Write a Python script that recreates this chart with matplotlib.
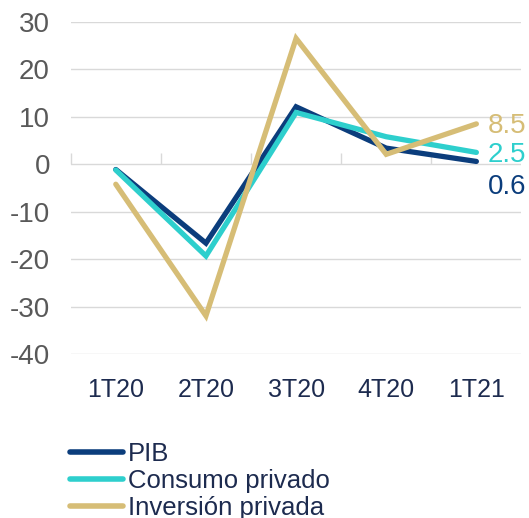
import matplotlib
matplotlib.use("Agg")
import matplotlib.pyplot as plt
import numpy as np

categories = ["1T20", "2T20", "3T20", "4T20", "1T21"]
pib = [-1.1, -16.6, 12.1, 3.4, 0.6]
consumo = [-1.2, -19.3, 10.9, 5.8, 2.5]
inversion = [-4.2, -31.9, 26.5, 2.1, 8.5]
series_names = ["PIB", "Consumo privado", "Inversión privada"]
yticks = [-40, -30, -20, -10, 0, 10, 20, 30]

colors = ["#0b3d7c", "#2ecfcd", "#d6bd76"]
plt.rcParams['font.family'] = ['Liberation Sans', 'DejaVu Sans']

fig = plt.figure(figsize=(5.29, 5.18), dpi=100)
ax = fig.add_axes([0.1337, 0.316, 0.852, 0.642])

x = np.arange(len(categories))
lines = []
for i, (vals, name) in enumerate(zip([pib, consumo, inversion], series_names)):
    ln, = ax.plot(x, vals, color=colors[i], lw=3.8, solid_capstyle='round',
                  solid_joinstyle='miter', label=name, zorder=3 + i)
    lines.append(ln)

ax.set_xlim(-0.5, len(categories) - 0.5)
ax.set_ylim(min(yticks), max(yticks))
ax.set_yticks(yticks)
ax.set_yticklabels([str(t) for t in yticks])
ax.set_xticks(x)
ax.set_xticklabels(categories)
ax.grid(axis='y', color='#d9d9d9', lw=1.0)
ax.set_axisbelow(True)
for s in ax.spines.values():
    s.set_visible(False)
ax.tick_params(axis='y', length=0, pad=15, labelsize=20, labelcolor='#595959')
ax.tick_params(axis='x', length=0, pad=17, labelsize=18, labelcolor='#1d2b4f')

# category boundary tick marks on the zero line
zero_frac = (0 - min(yticks)) / (max(yticks) - min(yticks))
sec = ax.secondary_xaxis(zero_frac)
sec.spines['bottom'].set_visible(False)
sec.spines['top'].set_visible(False)
sec.set_xticks(np.arange(len(categories)) - 0.5)
sec.set_xticklabels([])
sec.tick_params(axis='x', direction='out', length=8, color='#d9d9d9', width=1)

# end labels
end_vals = [pib[-1], consumo[-1], inversion[-1]]
offsets = [-5.4, -0.5, -0.5]
for i, v in enumerate(end_vals):
    ax.text(x[-1] + 0.13, v + offsets[i], f"{v:.1f}", color=colors[i],
            fontsize=20, va='center', ha='left', clip_on=False)

leg = fig.legend(handles=lines, loc='upper left', bbox_to_anchor=(0.133, 0.147),
                 frameon=False, fontsize=18.5, labelspacing=0.11, handlelength=2.05,
                 handletextpad=0.2, borderaxespad=0, borderpad=0)
for t in leg.get_texts():
    t.set_color('#1d2b4f')
for h in leg.legend_handles:
    h.set_linewidth(4)
    h.set_solid_capstyle('round')

fig.savefig("out.png", dpi=100)
